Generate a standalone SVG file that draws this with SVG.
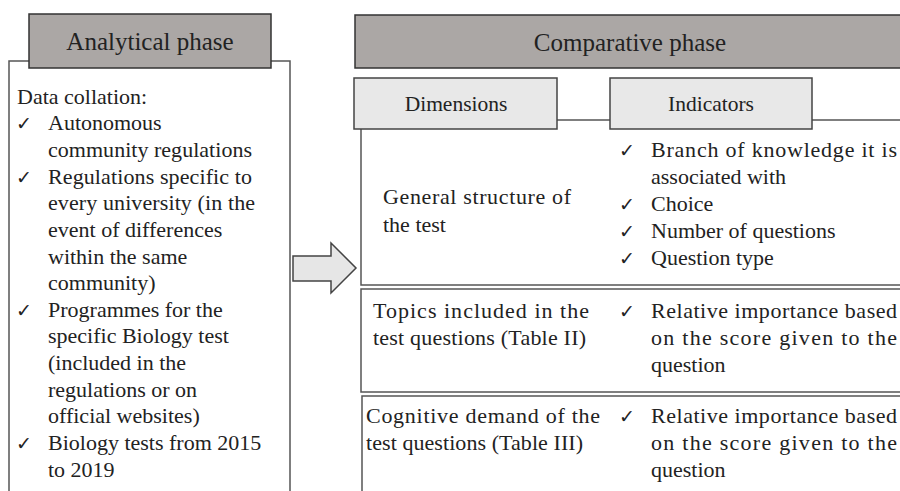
<svg xmlns="http://www.w3.org/2000/svg" width="900" height="491" viewBox="0 0 900 491">
<style>
text{font-family:'Liberation Serif','Times New Roman',serif;font-size:22px;fill:#222}
.c{font-family:'DejaVu Sans','Noto Sans',sans-serif;font-size:19px}
.h{font-size:25px}
.d{font-size:21.5px}
.m{text-anchor:middle}
.hdr{fill:#aba7a5;stroke:#333;stroke-width:1.5}
.sub{fill:#e8e8e8;stroke:#444;stroke-width:1.5}
.box{fill:#fff;stroke:#555;stroke-width:1.5}
</style>
<rect width="900" height="491" fill="#fff"/>
<g id="analytical">
<rect class="box" x="9" y="61" width="281" height="450"/>
<rect class="hdr" x="29" y="14" width="242" height="54"/>
<text class="h m" x="150" y="50">Analytical phase</text>
<text x="17" y="104">Data collation:</text>
<text class="c" x="16" y="130">✓</text>
<text x="48" y="130">Autonomous</text>
<text x="48" y="157" textLength="204">community regulations</text>
<text class="c" x="16" y="184">✓</text>
<text x="48" y="184" textLength="204">Regulations specific to</text>
<text x="48" y="210" textLength="207">every university (in the</text>
<text x="48" y="237">event of differences</text>
<text x="48" y="264">within the same</text>
<text x="48" y="290">community)</text>
<text class="c" x="16" y="317">✓</text>
<text x="48" y="317">Programmes for the</text>
<text x="48" y="343">specific Biology test</text>
<text x="48" y="370">(included in the</text>
<text x="48" y="397">regulations or on</text>
<text x="48" y="423">official websites)</text>
<text class="c" x="16" y="450">✓</text>
<text x="48" y="450">Biology tests from 2015</text>
<text x="48" y="477">to 2019</text>
</g>
<g id="connectors">
<path d="M293,256 H331 V243 L356,268 L331,293 V281 H293 Z" fill="#e6e6e6" stroke="#444" stroke-width="1.5"/>
</g>
<g id="row1">
<rect class="box" x="361" y="120" width="560" height="165"/>
<text x="383" y="204" textLength="188">General structure of</text>
<text x="383" y="232">the test</text>
<text class="c" x="619" y="157">✓</text>
<text x="651" y="157" textLength="246">Branch of knowledge it is</text>
<text x="651" y="184">associated with</text>
<text class="c" x="619" y="211">✓</text>
<text x="651" y="211">Choice</text>
<text class="c" x="619" y="238">✓</text>
<text x="651" y="238">Number of questions</text>
<text class="c" x="619" y="265">✓</text>
<text x="651" y="265">Question type</text>
</g>
<g id="comparative">
<rect class="hdr" x="355" y="15" width="560" height="53"/>
<text class="h m" x="630" y="51">Comparative phase</text>
</g>
<g id="dimensions">
<rect class="sub" x="354" y="78" width="203" height="51"/>
<text class="d m" x="456" y="111">Dimensions</text>
</g>
<g id="indicators">
<rect class="sub" x="610" y="78" width="202" height="51"/>
<text class="d m" x="711" y="111">Indicators</text>
</g>
<g id="row2">
<rect class="box" x="361" y="289" width="560" height="103"/>
<text x="373" y="318" textLength="216">Topics included in the</text>
<text x="373" y="345" textLength="213">test questions (Table II)</text>
<text class="c" x="619" y="318">✓</text>
<text x="651" y="318" textLength="246">Relative importance based</text>
<text x="651" y="345" textLength="246">on the score given to the</text>
<text x="651" y="372">question</text>
</g>
<g id="row3">
<rect class="box" x="362" y="396" width="560" height="120"/>
<text x="366" y="423" textLength="234">Cognitive demand of the</text>
<text x="366" y="450" textLength="217">test questions (Table III)</text>
<text class="c" x="619" y="423">✓</text>
<text x="651" y="423" textLength="246">Relative importance based</text>
<text x="651" y="450" textLength="246">on the score given to the</text>
<text x="651" y="477">question</text>
</g>
</svg>
